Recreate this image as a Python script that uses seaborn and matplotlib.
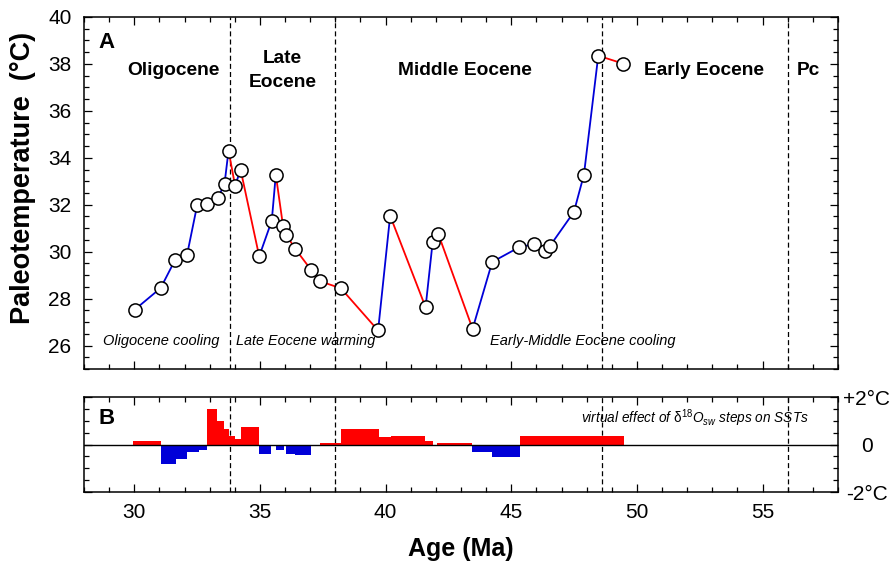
import pandas as pd
import seaborn as sns
import matplotlib.pyplot as plt
from matplotlib.ticker import MultipleLocator

# panel A: paleotemperature estimates
age = [30.02, 31.05, 31.63, 32.10, 32.50, 32.89, 33.32, 33.59, 33.75, 34.01,
       34.23, 34.97, 35.47, 35.63, 35.92, 36.05, 36.41, 37.05, 37.38, 38.22,
       39.70, 40.18, 41.59, 41.87, 42.09, 43.46, 44.24, 45.30, 45.91, 46.33,
       46.55, 47.49, 47.89, 48.46, 49.46]
temp = [27.53, 28.45, 29.66, 29.87, 31.97, 32.04, 32.27, 32.89, 34.31, 32.81,
        33.49, 29.80, 31.32, 33.28, 31.08, 30.71, 30.11, 29.20, 28.74, 28.44,
        26.64, 31.53, 27.63, 30.40, 30.77, 26.71, 29.56, 30.18, 30.33, 30.01,
        30.26, 31.69, 33.28, 38.35, 38.01]

# panel B: virtual effect of d18O_sw steps (deg C)
step_start = [29.95, 31.08, 31.65, 32.10, 32.56, 32.90, 33.30, 33.56, 33.75, 34.00,
              34.23, 34.98, 35.62, 36.04, 36.41, 37.39, 38.23, 39.73, 40.20, 41.57,
              42.06, 43.45, 44.24, 45.34, 47.52, 47.91]
step_end = [31.08, 31.65, 32.10, 32.56, 32.90, 33.30, 33.56, 33.75, 34.00, 34.23,
            34.98, 35.45, 35.94, 36.41, 37.02, 38.23, 39.73, 40.20, 41.57, 41.90,
            43.45, 44.24, 45.34, 47.52, 47.91, 49.47]
step_value = [0.16, -0.80, -0.61, -0.30, -0.21, 1.51, 1.00, 0.67, 0.38, 0.24,
              0.75, -0.38, -0.21, -0.38, -0.44, 0.07, 0.67, 0.33, 0.37, 0.16,
              0.07, -0.30, -0.51, 0.37, 0.34, 0.37]

boundaries = [33.8, 38.0, 48.6, 56.0]

RED = '#ff0000'
BLUE = '#0000d8'

sns.set_style("ticks")
plt.rcParams['font.family'] = ['Liberation Sans', 'DejaVu Sans']
plt.rcParams['mathtext.fontset'] = 'custom'
plt.rcParams['mathtext.rm'] = 'Liberation Sans'
plt.rcParams['mathtext.it'] = 'Liberation Sans:italic'
plt.rcParams['axes.linewidth'] = 1.1
for k in ['text.color', 'axes.labelcolor', 'xtick.color', 'ytick.color', 'axes.edgecolor']:
    plt.rcParams[k] = 'black'

fig = plt.figure(figsize=(8.92, 5.66), dpi=100)
axA = fig.add_axes([0.0942, 0.3481, 0.8453, 0.6219])
axB = fig.add_axes([0.0942, 0.1307, 0.8453, 0.1678])

# ---- panel A
df = pd.DataFrame({'age': age, 'temp': temp})
for i in range(len(age) - 1):
    c = BLUE if temp[i + 1] > temp[i] else RED
    axA.plot(age[i:i + 2], temp[i:i + 2], color=c, lw=1.3, zorder=2)
sns.scatterplot(data=df, x='age', y='temp', ax=axA, s=90, color='white',
                edgecolor='black', linewidth=1.1, zorder=3)

for b in boundaries:
    axA.axvline(b, color='black', lw=0.9, ls=(0, (4, 2.5)), zorder=1)
    axB.axvline(b, color='black', lw=0.9, ls=(0, (4, 2.5)), zorder=1)

axA.set_xlim(28, 58)
axA.set_ylim(25, 40)
axA.xaxis.set_major_locator(MultipleLocator(5))
axA.xaxis.set_minor_locator(MultipleLocator(1))
axA.yaxis.set_major_locator(MultipleLocator(2))
axA.yaxis.set_minor_locator(MultipleLocator(0.5))
axA.tick_params(which='both', direction='in', top=True, right=True,
                labelbottom=False, width=0.9)
axA.tick_params(which='major', length=5.5, labelsize=15, pad=9)
axA.tick_params(which='minor', length=3.5)
axA.set_xlabel('')
axA.set_ylabel('Paleotemperature  (°C)', fontsize=19.5, fontweight='bold')
axA.yaxis.set_label_coords(-0.064, 0.543)

axA.text(28.91, 38.9, 'A', fontsize=16, fontweight='bold', ha='center', va='center')
for x, lab in [(31.54, 'Oligocene'), (35.9, 'Late\nEocene'), (43.16, 'Middle Eocene'),
               (52.66, 'Early Eocene'), (56.83, 'Pc')]:
    axA.text(x, 37.72, lab, fontsize=13.8, fontweight='bold', ha='center', va='center',
             linespacing=1.55)
axA.text(31.08, 26.18, 'Oligocene cooling', fontsize=10.5, style='italic',
         ha='center', va='center')
axA.text(34.06, 26.18, 'Late Eocene warming', fontsize=10.4, style='italic',
         ha='left', va='center')
axA.text(47.85, 26.18, 'Early-Middle Eocene cooling', fontsize=10.5, style='italic',
         ha='center', va='center')

# ---- panel B
widths = [e - s for s, e in zip(step_start, step_end)]
colors = [RED if v > 0 else BLUE for v in step_value]
axB.bar(step_start, step_value, width=widths, align='edge', color=colors,
        linewidth=0, zorder=2)
axB.axhline(0, color='black', lw=1.0, zorder=3)

axB.set_xlim(28, 58)
axB.set_ylim(-2, 2)
axB.xaxis.set_major_locator(MultipleLocator(5))
axB.xaxis.set_minor_locator(MultipleLocator(1))
axB.set_yticks([-2, 0, 2], labels=['-2°C', '0', '+2°C'])
axB.yaxis.set_minor_locator(MultipleLocator(0.5))
axB.tick_params(which='both', direction='in', top=True, right=True, width=0.9,
                labelleft=False, labelright=True)
axB.tick_params(which='major', length=5.5, labelsize=15)
axB.tick_params(axis='x', which='major', pad=8)
axB.tick_params(axis='y', which='major', pad=20.5)
axB.tick_params(which='minor', length=3.5)
for t in axB.get_yticklabels():
    t.set_ha('center')
axB.set_xlabel('Age (Ma)', fontsize=18, fontweight='bold', labelpad=11)

axB.text(0.03, 0.776, 'B', transform=axB.transAxes, fontsize=16, fontweight='bold',
         ha='center', va='center')
axB.text(56.84, 1.13, r'virtual effect of $\mathrm{\delta}^{18}O_{sw}$ steps on SSTs',
         fontsize=9.8, style='italic', ha='right', va='center')

fig.savefig('out.png', dpi=100)
